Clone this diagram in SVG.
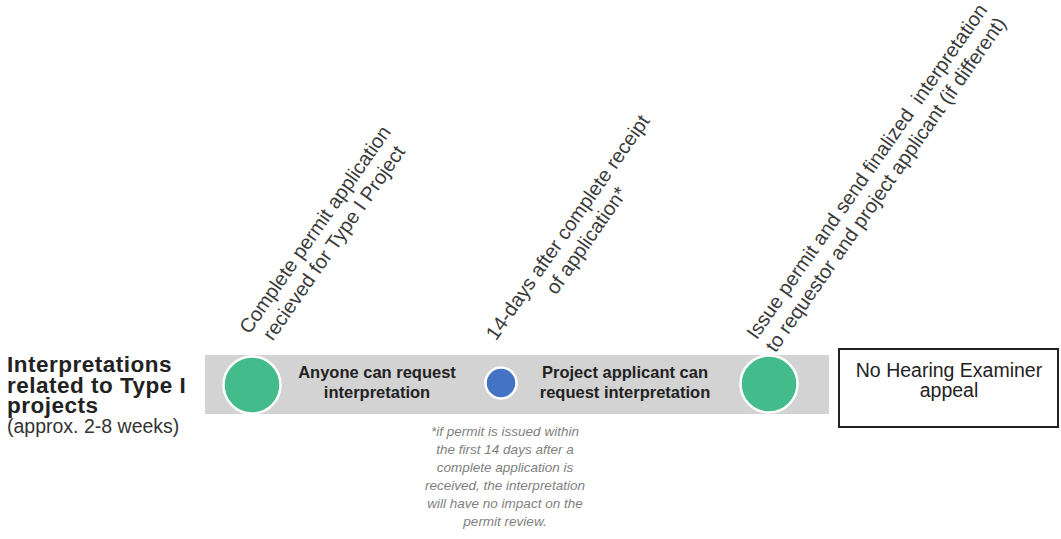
<svg xmlns="http://www.w3.org/2000/svg" width="1061" height="539" viewBox="0 0 1061 539">
  <style>
    text { font-family: "Liberation Sans", Arial, sans-serif; }
    .title { font-size: 22.5px; font-weight: bold; fill: #222; letter-spacing: 0.5px; }
    .sub { font-size: 19.5px; fill: #333; }
    .rot { font-size: 20px; fill: #3a3a3a; text-anchor: middle; }
    .bar-label { font-size: 16.5px; font-weight: bold; fill: #222; text-anchor: middle; }
    .note { font-size: 13.5px; font-style: italic; fill: #7f7f7f; text-anchor: middle; }
    .box-label { font-size: 19.5px; fill: #222; text-anchor: middle; }
    .green { fill: #44bb8a; stroke: #ffffff; stroke-width: 2.5; }
    .blue { fill: #4472c4; stroke: #ffffff; stroke-width: 2.5; }
  </style>

  <g id="row-title">
    <text class="title" x="7" y="372">Interpretations</text>
    <text class="title" x="7" y="393">related to Type I</text>
    <text class="title" x="7" y="413">projects</text>
    <text class="sub" x="7" y="433">(approx. 2-8 weeks)</text>
  </g>

  <g id="timeline-bar">
    <rect x="205" y="355" width="624" height="59" fill="#d3d3d3"/>
  </g>

  <g id="node-start">
    <circle class="green" cx="252" cy="385" r="28.5"/>
    <g transform="translate(320.5,233.5) rotate(-55)">
      <text class="rot" x="0" y="0">Complete permit application</text>
      <text class="rot" x="0" y="23">recieved for Type I Project</text>
    </g>
  </g>

  <g id="phase-anyone">
    <text class="bar-label" x="377" y="378">Anyone can request</text>
    <text class="bar-label" x="377" y="398">interpretation</text>
  </g>

  <g id="node-14days">
    <circle class="blue" cx="501" cy="383" r="15.5"/>
    <g transform="translate(573.2,231.2) rotate(-55)">
      <text class="rot" x="0" y="0">14-days after complete receipt</text>
      <text class="rot" x="0" y="23">of application*</text>
    </g>
  </g>

  <g id="phase-applicant">
    <text class="bar-label" x="625" y="378">Project applicant can</text>
    <text class="bar-label" x="625" y="398">request interpretation</text>
  </g>

  <g id="node-issue">
    <circle class="green" cx="769" cy="384" r="28.5"/>
    <g transform="translate(872.4,175.2) rotate(-55)">
      <text class="rot" x="0" y="0" xml:space="preserve">Issue permit and send finalized  interpretation</text>
      <text class="rot" x="0" y="23">to requestor and project applicant (if different)</text>
    </g>
  </g>

  <g id="node-appeal">
    <rect x="839" y="349" width="219" height="78" fill="#ffffff" stroke="#222" stroke-width="2"/>
    <text class="box-label" x="949" y="377">No Hearing Examiner</text>
    <text class="box-label" x="949" y="397">appeal</text>
  </g>

  <g id="note">
    <text class="note" x="505" y="436">*if permit is issued within</text>
    <text class="note" x="505" y="454">the first 14 days after a</text>
    <text class="note" x="505" y="472">complete application is</text>
    <text class="note" x="505" y="490">received, the interpretation</text>
    <text class="note" x="505" y="508">will have no impact on the</text>
    <text class="note" x="505" y="526">permit review.</text>
  </g>

  <g id="connectors"></g>
</svg>
